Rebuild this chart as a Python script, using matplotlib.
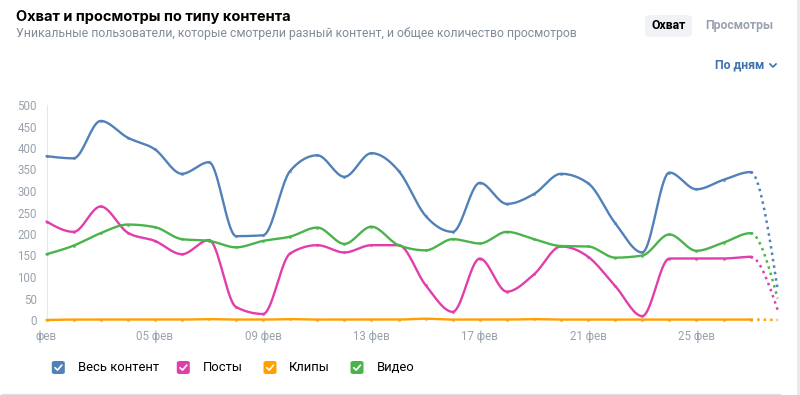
import numpy as np
import matplotlib
matplotlib.use("Agg")
import matplotlib.pyplot as plt
from matplotlib.lines import Line2D
from matplotlib.patches import FancyBboxPatch

plt.rcParams['font.family'] = ['Roboto', 'DejaVu Sans']

# --- data -------------------------------------------------------------------
days = list(range(1, 29))
tick_idx = [0, 4, 8, 12, 16, 20, 24]
tick_labels = ["фев", "05 фев", "09 фев", "13 фев", "17 фев", "21 фев", "25 фев"]

all_content = [381, 376, 463, 424, 397, 340, 367, 195, 197, 347, 383, 333, 388, 347,
               242, 205, 319, 270, 293, 340, 318, 225, 157, 343, 304, 326, 344, 70]
posts = [229, 205, 264, 203, 184, 153, 186, 30, 14, 155, 174, 157, 174, 174,
         81, 19, 143, 66, 106, 171, 147, 79, 9, 143, 143, 143, 147, 23]
clips = [0, 1, 1, 1, 1, 1, 2, 1, 1, 2, 1, 1, 1, 1,
         3, 1, 1, 1, 2, 1, 1, 1, 1, 1, 1, 1, 1, 0]
video = [153, 173, 202, 222, 216, 188, 184, 169, 184, 194, 215, 177, 217, 174,
         162, 188, 178, 205, 188, 172, 171, 145, 150, 199, 161, 180, 202, 50]

series = [
    ("Весь контент", all_content, "#5181b8"),
    ("Посты", posts, "#e03fab"),
    ("Клипы", clips, "#ffa000"),
    ("Видео", video, "#4bb34b"),
]


def monotone(y, n=20):
    """monotone cubic (d3 monotoneX style) on unit-spaced points"""
    y = np.asarray(y, float)
    s = np.diff(y)
    t = np.zeros_like(y)
    for i in range(1, len(y) - 1):
        s0, s1 = s[i - 1], s[i]
        p = (s0 + s1) / 2
        t[i] = (np.sign(s0) + np.sign(s1)) * min(abs(s0), abs(s1), 0.5 * abs(p))
    t[0] = (3 * s[0] - t[1]) / 2
    t[-1] = (3 * s[-1] - t[-2]) / 2
    xs, ys = [], []
    u = np.linspace(0, 1, n)
    for i in range(len(y) - 1):
        h00 = 2 * u**3 - 3 * u**2 + 1
        h10 = u**3 - 2 * u**2 + u
        h01 = -2 * u**3 + 3 * u**2
        h11 = u**3 - u**2
        xs.append(i + u)
        ys.append(h00 * y[i] + h10 * t[i] + h01 * y[i + 1] + h11 * t[i + 1])
    return np.concatenate(xs), np.concatenate(ys)


W, H = 800, 395
fig = plt.figure(figsize=(8, 3.95), dpi=100)


def fx(px):
    return px / W


def fy(py):
    return 1 - py / H


# axes placed so that 0 -> y 320px, 500 -> y 105px, day1 -> x 46.5px
x_span = 27.1
ax = fig.add_axes([fx(46.5), fy(320), 731.2 / 27 * x_span / W, 215 / H])
ax.set_xlim(0, x_span)
ax.set_ylim(0, 500)

n = 20
for name, vals, col in series:
    xs, ys = monotone(vals, n)
    cut = 26 * n
    ax.plot(xs[:cut], ys[:cut], color=col, lw=1.7, clip_on=False, zorder=3,
            solid_capstyle='round')
    ax.plot(xs[cut:], ys[cut:], color=col, lw=1.8, clip_on=False, zorder=3,
            linestyle=(0, (1.0, 1.6)))
    ax.plot(range(27), vals[:27], 'o', ms=1.3, color=col, alpha=0.6,
            clip_on=False, zorder=3)

for sp in ["top", "right", "bottom"]:
    ax.spines[sp].set_visible(False)
ax.spines["left"].set_color("#e7e8ec")
ax.spines["left"].set_linewidth(0.8)
ax.set_yticks(range(0, 501, 50))
ax.set_xticks(tick_idx)
ax.set_xticklabels(tick_labels)
ax.tick_params(length=0, labelsize=8.3, colors="#99a2ad")
ax.tick_params(axis='y', pad=7)
ax.tick_params(axis='x', pad=7)

# --- header -----------------------------------------------------------------
fig.text(fx(16), fy(17), "Охват и просмотры по типу контента", family=['Inter', 'DejaVu Sans'],
         fontsize=10.5, fontweight='bold', color="#000000", va='center', ha='left')
fig.text(fx(16), fy(33), "Уникальные пользователи, которые смотрели разный контент, и общее количество просмотров",
         fontsize=8.85, color="#818c99", va='center', ha='left')

box = FancyBboxPatch((fx(645), fy(37)), fx(47), 22 / H, transform=fig.transFigure,
                     boxstyle="round,pad=0,rounding_size=0.008", fc="#f0f2f5", ec="none")
fig.add_artist(box)
fig.text(fx(668.5), fy(25.5), "Охват", fontsize=8.8, fontweight='bold', color="#000000",
         ha='center', va='center')
fig.text(fx(739), fy(25.5), "Просмотры", fontsize=8.8, fontweight='bold', color="#99a2ad",
         ha='center', va='center')
fig.text(fx(740), fy(65), "По дням", fontsize=8.8, fontweight='bold', color="#3f72ad",
         ha='center', va='center')
fig.add_artist(Line2D([fx(770), fx(773), fx(776)], [fy(64), fy(67), fy(64)],
                      color="#3f72ad", lw=1.2, transform=fig.transFigure))

# --- legend -----------------------------------------------------------------
leg_box_x = [58.3, 183.3, 270, 357]
leg_text_x = [78, 203, 289, 377]
ly = 367.5
for (name, vals, col), bx, tx in zip(series, leg_box_x, leg_text_x):
    b = FancyBboxPatch((fx(bx - 6.5), fy(ly + 6.5)), fx(13), 13 / H, transform=fig.transFigure,
                       boxstyle="round,pad=0,rounding_size=0.004", fc=col, ec="none")
    fig.add_artist(b)
    fig.add_artist(Line2D([fx(bx - 3.3), fx(bx - 0.8), fx(bx + 3.5)],
                          [fy(ly + 0.2), fy(ly + 2.6), fy(ly - 2.4)],
                          color="white", lw=1.2, transform=fig.transFigure,
                          solid_capstyle='round', solid_joinstyle='round'))
    fig.text(fx(tx), fy(ly), name, fontsize=9.4, color="#000000", ha='left', va='center')

# bottom separator and right edge
fig.add_artist(Line2D([fx(2), fx(780)], [fy(394), fy(394)], color="#dce1e6", lw=1,
                      transform=fig.transFigure))
fig.add_artist(Line2D([fx(797.5), fx(797.5)], [0, 1], color="#e7e8ec", lw=2,
                      transform=fig.transFigure))

fig.savefig("out.png", dpi=100, facecolor="white")
